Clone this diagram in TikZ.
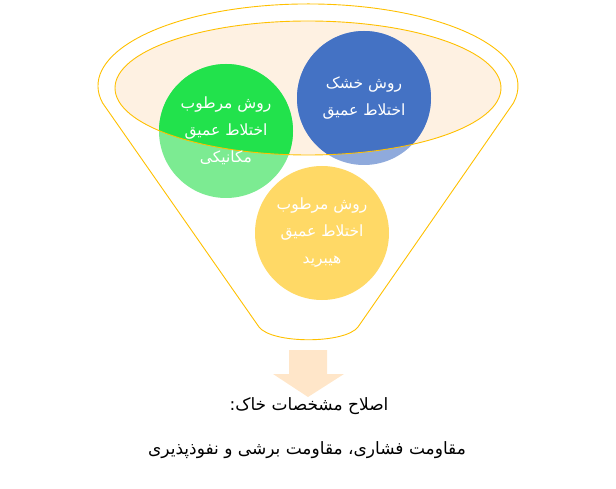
\documentclass[tikz,border=0pt]{standalone}
\usepackage{fontspec}
\newfontfamily\arabicfont[Script=Arabic]{DejaVu Sans}
\TeXXeTstate=1
\usetikzlibrary{calc}
\definecolor{funnelline}{HTML}{FFC000}
\definecolor{rimfill}{HTML}{FEF1E2}
\definecolor{dryblue}{HTML}{4472C4}
\definecolor{dryblueL}{HTML}{8FAADC}
\definecolor{wetgreen}{HTML}{22E24C}
\definecolor{wetgreenL}{HTML}{7CEB92}
\definecolor{hybridyellow}{HTML}{FFD966}
\definecolor{arrowfill}{HTML}{FFE6C9}
\newcommand{\fa}[1]{\beginR #1\endR}
\tikzstyle{funnel} = [draw=funnelline, line width=0.9pt]
\tikzstyle{bubbletext} = [text=white, align=center, font=\arabicfont\fontsize{15.5}{27}\selectfont]
\tikzstyle{resulttext} = [text=black, font=\arabicfont\fontsize{17}{20}\selectfont]

\begin{document}
\begin{tikzpicture}[x=1pt, y=-1pt]

 \useasboundingbox (0,0) rectangle (616,489);

 % rim of the funnel
 \fill[rimfill] (308,88) ellipse [x radius=193, y radius=67];

 % the three methods, faded outside the rim
 \fill[dryblueL] (364,98) circle [radius=67];
 \fill[wetgreenL] (226,131) circle [radius=67];
 \begin{scope}
  \clip (308,88) ellipse [x radius=193, y radius=67];
  \fill[dryblue] (364,98) circle [radius=67];
  \fill[wetgreen] (226,131) circle [radius=67];
 \end{scope}
 \draw[funnel] (308,88) ellipse [x radius=193, y radius=67];

 % funnel body
 \coordinate (bl) at (259,327);
 \coordinate (br) at (358,327);
 \draw[funnel] (bl) -- (102.6,103) arc [start angle=168, end angle=372, x radius=210, y radius=82]
   -- (br) .. controls (345,344) and (272,344) .. (bl);

 \fill[hybridyellow] (322,233) circle [radius=67];

 \node[bubbletext] (dry) at (364,98) {\fa{روش خشک}\\\fa{اختلاط عمیق}};
 \node[bubbletext] (mech) at (226,131) {\fa{روش مرطوب}\\\fa{اختلاط عمیق}\\\fa{مکانیکی}};
 \node[bubbletext] (hyb) at (322,233) {\fa{روش مرطوب}\\\fa{اختلاط عمیق}\\\fa{هیبرید}};

 % output arrow
 \fill[arrowfill] (289,350) -- (327,350) -- (327,374) -- (344,374) -- (308,397)
   -- (273,374) -- (289,374) -- cycle;

 \node[resulttext] (res1) at (309,406) {\fa{اصلاح مشخصات خاک:}};
 \node[resulttext] (res2) at (307,450) {\fa{مقاومت فشاری، مقاومت برشی و نفوذپذیری}};

\end{tikzpicture}
\end{document}
